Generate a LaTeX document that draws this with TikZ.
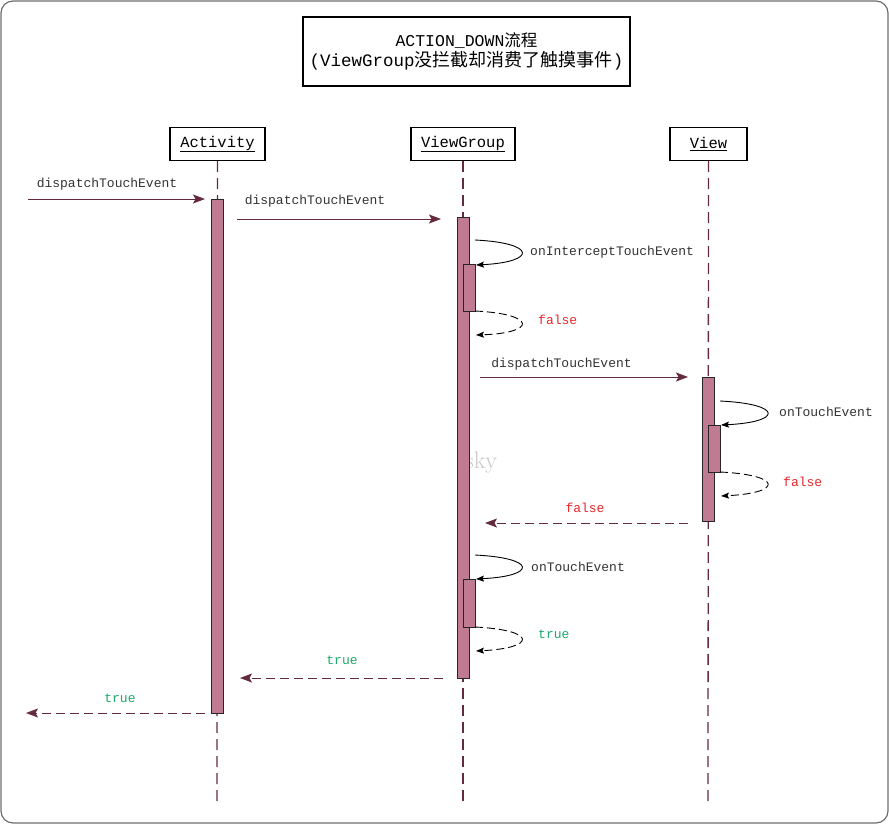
\documentclass[tikz,border=0pt]{standalone}
\usepackage{fontspec}
\setmainfont{Liberation Mono}
\newfontfamily\cjk{Noto Sans CJK SC}
\newfontfamily\wmfont{Latin Modern Roman}
\usetikzlibrary{arrows.meta}
\definecolor{barc}{RGB}{192,122,146}
\definecolor{maroon}{RGB}{100,42,64}
\definecolor{redt}{RGB}{232,38,42}
\definecolor{greent}{RGB}{30,168,105}
\definecolor{framec}{RGB}{110,110,110}
\begin{document}
\begin{tikzpicture}[x=1pt,y=-1pt,
  framebox/.style={draw=framec,line width=1.2pt,rounded corners=12pt},
  titlebox/.style={draw=black,line width=1.2pt,minimum width=327pt,minimum height=69pt,align=center,inner sep=0pt},
  head/.style={draw=black,line width=1.3pt,minimum height=33pt,inner sep=0pt,font=\fontsize{15.5}{18}\selectfont},
  life/.style={draw=maroon,line width=1.3pt,dash pattern=on 11pt off 6pt},
  bar/.style={draw=black!85,line width=0.9pt,fill=barc},
  msg/.style={draw=maroon,line width=1pt,-{Stealth[length=12pt,width=9pt,inset=2.5pt]}},
  ret/.style={msg,dash pattern=on 9pt off 5pt},
  selfc/.style={draw=black,line width=0.9pt,-{Stealth[length=8pt,width=6pt,inset=1.5pt]}},
  selfr/.style={selfc,dash pattern=on 8pt off 4pt},
  lbl/.style={font=\fontsize{13}{15}\selectfont,inner sep=0pt,text=black!80},
  lblw/.style={lbl,anchor=west}
]
\useasboundingbox (0,0) rectangle (889,824);
\draw[framebox] (1,1) rectangle (888,823);

% title
\node[titlebox] (title) at (466.5,51.5) {{\fontsize{16.5}{20}\selectfont ACTION\_DOWN{\cjk 流程}}\\[2pt]
  {\fontsize{17.5}{21}\selectfont (ViewGroup{\cjk\fontsize{18}{21}\selectfont 没拦截却消费了触摸事件})}};

% heads
\node[head,minimum width=95pt] (act) at (217.5,144) {\underline{Activity}};
\node[head,minimum width=104pt] (vg) at (463,144) {\underline{ViewGroup}};
\node[head,minimum width=77pt] (view) at (708.5,144) {\underline{View}};

% lifelines
\coordinate (actend) at (217,805);
\coordinate (vgend) at (463,805);
\coordinate (viewend) at (708,805);
\draw[life] (act.south) -- (actend);
\draw[life] (vg.south) -- (vgend);
\draw[life] (view.south) -- (viewend);

% watermark
\node[anchor=west,inner sep=0pt,text=black!22,font=\wmfont\fontsize{24}{26}\selectfont] (wm) at (465,463) {sky};

% activation bars
\draw[bar] (211,199) rectangle (223,713);
\draw[bar] (457,217) rectangle (469,678);
\draw[bar] (463,264) rectangle (475,311);
\draw[bar] (463,579) rectangle (475,627);
\draw[bar] (702,377) rectangle (714,521);
\draw[bar] (708,425) rectangle (720,472);

% messages
\coordinate (m1s) at (28,199); \coordinate (m1e) at (205,199);
\draw[msg] (m1s) -- (m1e);
\node[lbl] (l1) at (107,184) {dispatchTouchEvent};

\coordinate (m2s) at (237,219); \coordinate (m2e) at (441,219);
\draw[msg] (m2s) -- (m2e);
\node[lbl] (l2) at (315,201) {dispatchTouchEvent};

\coordinate (s1s) at (475,240); \coordinate (s1e) at (476,265);
\draw[selfc] (s1s) .. controls (537,243) and (537,262) .. (s1e);
\node[lblw] (l3) at (530,252) {onInterceptTouchEvent};

\coordinate (r1s) at (475,311); \coordinate (r1e) at (476,335);
\draw[selfr] (r1s) .. controls (537,314) and (537,333) .. (r1e);
\node[lblw,text=redt] (l4) at (538,320) {false};

\coordinate (m3s) at (480,377); \coordinate (m3e) at (688,377);
\draw[msg] (m3s) -- (m3e);
\node[lbl] (l5) at (561.5,364) {dispatchTouchEvent};

\coordinate (s2s) at (720,401); \coordinate (s2e) at (721,425);
\draw[selfc] (s2s) .. controls (783,404) and (783,422) .. (s2e);
\node[lblw] (l6) at (779,412) {onTouchEvent};

\coordinate (r2s) at (720,472); \coordinate (r2e) at (721,496);
\draw[selfr] (r2s) .. controls (783,475) and (783,493) .. (r2e);
\node[lblw,text=redt] (l7) at (783,482) {false};

\coordinate (m4s) at (688,523); \coordinate (m4e) at (485,523);
\draw[ret] (m4s) -- (m4e);
\node[lbl,text=redt] (l8) at (585,508) {false};

\coordinate (s3s) at (475,555); \coordinate (s3e) at (476,579);
\draw[selfc] (s3s) .. controls (537,558) and (537,576) .. (s3e);
\node[lblw] (l9) at (531,567) {onTouchEvent};

\coordinate (r3s) at (475,627); \coordinate (r3e) at (476,651);
\draw[selfr] (r3s) .. controls (537,630) and (537,648) .. (r3e);
\node[lblw,text=greent] (l10) at (538,634) {true};

\coordinate (m5s) at (443,678); \coordinate (m5e) at (240,678);
\draw[ret] (m5s) -- (m5e);
\node[lbl,text=greent] (l11) at (342,660) {true};

\coordinate (m6s) at (205,713); \coordinate (m6e) at (26,713);
\draw[ret] (m6s) -- (m6e);
\node[lbl,text=greent] (l12) at (120,698) {true};
\end{tikzpicture}
\end{document}
